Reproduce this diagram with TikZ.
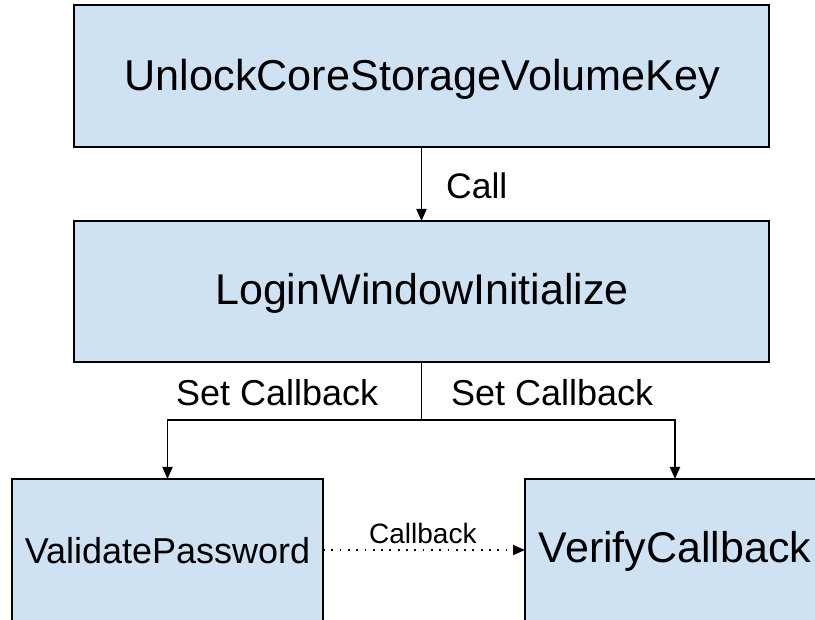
\documentclass[tikz,border=0pt]{standalone}
\usepackage{fontspec}
\setmainfont{Liberation Sans}
\usetikzlibrary{arrows.meta}
\definecolor{boxblue}{HTML}{CFE2F3}
\tikzset{
  fbox/.style={draw=black, line width=2pt, fill=boxblue, inner sep=0pt, outer sep=0pt},
  conn/.style={line width=1.8pt, -{Triangle[length=12pt,width=10pt]}},
  lbl/.style={inner sep=0pt, anchor=west}
}
\begin{document}
\begin{tikzpicture}[x=1pt,y=-1pt]
\useasboundingbox (0,0) rectangle (815,620);
\clip (0,0) rectangle (815,620);
\node[fbox, minimum width=695pt, minimum height=142pt] (top) at (421.5,76) {};
\node[font=\fontsize{43.2}{50}\selectfont, inner sep=0pt] (topt) at (422.5,79) {UnlockCoreStorageVolumeKey};
\node[fbox, minimum width=695pt, minimum height=141pt] (mid) at (421.5,291.5) {};
\node[font=\fontsize{43}{50}\selectfont, inner sep=0pt] (midt) at (422,293) {LoginWindowInitialize};
\node[fbox, minimum width=311pt, minimum height=150pt] (vl) at (167.5,554) {};
\node[font=\fontsize{36}{42}\selectfont, inner sep=0pt] (vlt) at (167.5,551) {ValidatePassword};
\node[fbox, minimum width=300pt, minimum height=150pt] (vr) at (675,554) {};
\node[font=\fontsize{43}{50}\selectfont, inner sep=0pt] (vrt) at (675,551) {VerifyCallback};
\draw[conn] (top.south) -- (mid.north);
\node[lbl, font=\fontsize{35.5}{42}\selectfont] (call) at (446,186) {Call};
\coordinate (br) at (421.5,420);
\draw[line width=1.8pt] (mid.south) -- (br);
\draw[conn] (br) -| (vl.north);
\draw[conn] (br) -| (vr.north);
\node[lbl, font=\fontsize{36}{42}\selectfont] (sc1) at (176,393) {Set Callback};
\node[lbl, font=\fontsize{36}{42}\selectfont] (sc2) at (451,393) {Set Callback};
\draw[line width=1.8pt, dash pattern=on 1.8pt off 6.5pt, -{Triangle[length=12pt,width=10pt]}] (vl.east |- 0,550) -- (vr.west |- 0,550);
\node[lbl, font=\fontsize{28}{34}\selectfont] (cb) at (369,533) {Callback};
\end{tikzpicture}
\end{document}
